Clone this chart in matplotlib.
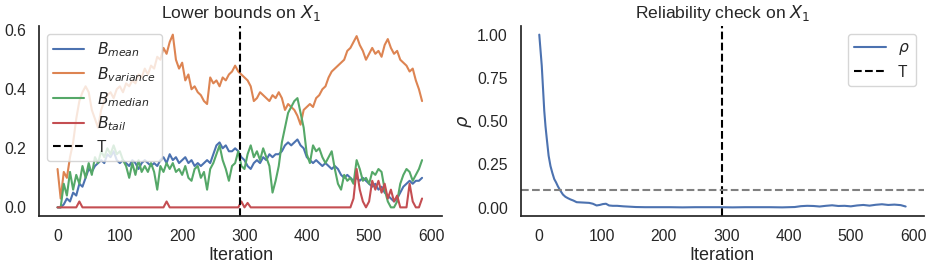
import numpy as np
import matplotlib
matplotlib.use('Agg')
import matplotlib.pyplot as plt
import seaborn as sns

# iterations sampled every 5 steps
iters = np.arange(0, 590, 5)

b_mean = [0.0, 0.0, 0.01, 0.03, 0.02, 0.05, 0.04, 0.08, 0.07, 0.10,
          0.13, 0.12, 0.14, 0.15, 0.16, 0.15, 0.18, 0.17, 0.19, 0.16,
          0.15, 0.16, 0.15, 0.14, 0.16, 0.15, 0.13, 0.15, 0.16, 0.15,
          0.14, 0.15, 0.14, 0.16, 0.17, 0.15, 0.18, 0.16, 0.17, 0.15,
          0.16, 0.17, 0.15, 0.16, 0.14, 0.15, 0.14, 0.15, 0.16, 0.15,
          0.18, 0.21, 0.22, 0.20, 0.21, 0.19, 0.19, 0.20, 0.19, 0.17,
          0.16, 0.14, 0.13, 0.15, 0.16, 0.15, 0.17, 0.16, 0.18, 0.17,
          0.18, 0.18, 0.19, 0.21, 0.22, 0.21, 0.22, 0.23, 0.21, 0.20,
          0.17, 0.16, 0.15, 0.16, 0.15, 0.14, 0.15, 0.14, 0.13, 0.14,
          0.13, 0.11, 0.10, 0.11, 0.10, 0.09, 0.10, 0.09, 0.10, 0.09,
          0.08, 0.07, 0.08, 0.06, 0.07, 0.05, 0.04, 0.03, 0.02, 0.03,
          0.05, 0.07, 0.08, 0.09, 0.08, 0.09, 0.09, 0.10]

b_variance = [0.13, 0.03, 0.12, 0.10, 0.17, 0.22, 0.30, 0.36, 0.39, 0.41,
              0.39, 0.33, 0.30, 0.27, 0.33, 0.36, 0.38, 0.39, 0.37, 0.40,
              0.41, 0.39, 0.42, 0.41, 0.43, 0.42, 0.45, 0.44, 0.47, 0.45,
              0.48, 0.47, 0.51, 0.50, 0.54, 0.52, 0.56, 0.585, 0.50, 0.47,
              0.49, 0.43, 0.45, 0.40, 0.41, 0.39, 0.38, 0.36, 0.35, 0.44,
              0.42, 0.43, 0.41, 0.44, 0.43, 0.45, 0.46, 0.48, 0.46, 0.45,
              0.44, 0.43, 0.41, 0.36, 0.37, 0.39, 0.38, 0.37, 0.36, 0.38,
              0.37, 0.39, 0.37, 0.33, 0.35, 0.34, 0.33, 0.31, 0.28, 0.33,
              0.34, 0.35, 0.34, 0.37, 0.38, 0.40, 0.41, 0.44, 0.46, 0.47,
              0.48, 0.49, 0.50, 0.53, 0.54, 0.56, 0.58, 0.55, 0.53, 0.50,
              0.52, 0.54, 0.52, 0.53, 0.51, 0.55, 0.57, 0.54, 0.52, 0.53,
              0.50, 0.49, 0.48, 0.46, 0.47, 0.43, 0.40, 0.36]

b_median = [0.0, 0.0, 0.08, 0.04, 0.12, 0.06, 0.11, 0.08, 0.14, 0.10,
            0.15, 0.11, 0.17, 0.15, 0.19, 0.17, 0.20, 0.18, 0.21, 0.18,
            0.19, 0.16, 0.14, 0.10, 0.15, 0.11, 0.16, 0.12, 0.14, 0.12,
            0.15, 0.12, 0.06, 0.14, 0.12, 0.15, 0.13, 0.15, 0.12, 0.13,
            0.11, 0.14, 0.10, 0.09, 0.13, 0.14, 0.10, 0.12, 0.06, 0.13,
            0.15, 0.18, 0.21, 0.16, 0.13, 0.09, 0.14, 0.15, 0.19, 0.14,
            0.13, 0.18, 0.21, 0.17, 0.19, 0.16, 0.20, 0.17, 0.14, 0.05,
            0.09, 0.14, 0.22, 0.27, 0.32, 0.34, 0.36, 0.37, 0.32, 0.27,
            0.18, 0.15, 0.21, 0.19, 0.20, 0.17, 0.15, 0.17, 0.19, 0.13,
            0.08, 0.06, 0.11, 0.09, 0.10, 0.08, 0.16, 0.13, 0.09, 0.10,
            0.08, 0.12, 0.11, 0.13, 0.12, 0.06, 0.02, 0.0, 0.0, 0.02,
            0.08, 0.11, 0.13, 0.12, 0.09, 0.11, 0.13, 0.16]

b_tail = [0.0, 0.0, 0.0, 0.0, 0.0, 0.0, 0.0, 0.02, 0.0, 0.0,
          0.0, 0.0, 0.0, 0.0, 0.0, 0.0, 0.0, 0.0, 0.0, 0.0,
          0.0, 0.0, 0.0, 0.0, 0.0, 0.0, 0.0, 0.0, 0.0, 0.0,
          0.0, 0.0, 0.0, 0.0, 0.0, 0.02, 0.0, 0.0, 0.0, 0.0,
          0.0, 0.0, 0.0, 0.0, 0.0, 0.0, 0.0, 0.0, 0.0, 0.0,
          0.0, 0.0, 0.0, 0.0, 0.0, 0.0, 0.0, 0.0, 0.0, 0.02,
          0.0, 0.015, 0.0, 0.0, 0.0, 0.0, 0.0, 0.0, 0.0, 0.0,
          0.0, 0.0, 0.0, 0.0, 0.0, 0.0, 0.0, 0.0, 0.0, 0.0,
          0.0, 0.0, 0.0, 0.0, 0.0, 0.0, 0.0, 0.0, 0.0, 0.0,
          0.0, 0.0, 0.0, 0.0, 0.0, 0.03, 0.13, 0.06, 0.02, 0.0,
          0.02, 0.09, 0.06, 0.09, 0.05, 0.08, 0.03, 0.06, 0.02, 0.04,
          0.0, 0.0, 0.0, 0.08, 0.02, 0.0, 0.0, 0.03]

rho_iter = [0, 2, 4, 6, 8, 10, 12, 15, 18, 21, 24, 27, 30, 34, 38, 42, 46, 50,
            55, 60, 65, 70, 75, 80, 86, 92, 97, 102, 107, 112, 118, 125, 135,
            145, 155, 170, 190, 210, 230, 250, 270, 290, 310, 330, 350, 370,
            390, 410, 420, 430, 440, 450, 460, 470, 480, 490, 500, 510, 520,
            530, 540, 550, 560, 570, 580, 588]
rho = [1.0, 0.91, 0.82, 0.69, 0.56, 0.47, 0.40, 0.30, 0.24, 0.20, 0.165, 0.145,
       0.122, 0.097, 0.075, 0.062, 0.054, 0.047, 0.040, 0.031, 0.030, 0.029,
       0.028, 0.027, 0.022, 0.012, 0.015, 0.020, 0.022, 0.012, 0.010, 0.010,
       0.007, 0.005, 0.003, 0.002, 0.002, 0.002, 0.001, 0.002, 0.002, 0.002,
       0.001, 0.002, 0.002, 0.002, 0.001, 0.003, 0.008, 0.010, 0.009, 0.006,
       0.010, 0.013, 0.009, 0.010, 0.007, 0.012, 0.015, 0.011, 0.016, 0.019,
       0.015, 0.017, 0.014, 0.006]

T = 293
rho_threshold = 0.1

sns.set_theme(style='white', context='notebook')
plt.rcParams['font.family'] = ['Liberation Sans', 'DejaVu Sans']
plt.rcParams['xtick.labelsize'] = 11.3
plt.rcParams['ytick.labelsize'] = 11.3
plt.rcParams['axes.labelsize'] = 13
plt.rcParams['axes.titlesize'] = 12.6
plt.rcParams['legend.fontsize'] = 11.2
pal = sns.color_palette('deep')

fig, (ax1, ax2) = plt.subplots(1, 2, figsize=(9.34, 2.68), dpi=100)
fig.subplots_adjust(left=0.042, right=0.989, bottom=0.194, top=0.903, wspace=0.196)

ax1.plot(iters, b_mean, color=pal[0], label='$B_{mean}$')
ax1.plot(iters, b_variance, color=pal[1], label='$B_{variance}$')
ax1.plot(iters, b_median, color=pal[2], label='$B_{median}$')
ax1.plot(iters, b_tail, color=pal[3], label='$B_{tail}$')
ax1.axvline(T, color='black', linestyle='--', label='T')
ax1.set_xlim(-29.4, 617)
ax1.set_title('Lower bounds on $X_1$')
ax1.set_xlabel('Iteration', labelpad=2)
ax1.set_xticks([0, 100, 200, 300, 400, 500, 600])
ax1.set_yticks([0.0, 0.2, 0.4, 0.6])
ax1.legend(loc='upper left', labelspacing=0.4)

ax2.plot(rho_iter, rho, color=pal[0], label=r'$\rho$')
ax2.axvline(T, color='black', linestyle='--', label='T')
ax2.axhline(rho_threshold, color='grey', linestyle='--')
ax2.set_xlim(-29.4, 617)
ax2.set_title('Reliability check on $X_1$')
ax2.set_xlabel('Iteration', labelpad=2)
ax2.set_ylabel(r'$\rho$', labelpad=2)
ax2.set_xticks([0, 100, 200, 300, 400, 500, 600])
ax2.set_yticks([0.0, 0.25, 0.5, 0.75, 1.0])
ax2.legend(loc='upper right')

sns.despine()
plt.savefig('out.png', dpi=100)
